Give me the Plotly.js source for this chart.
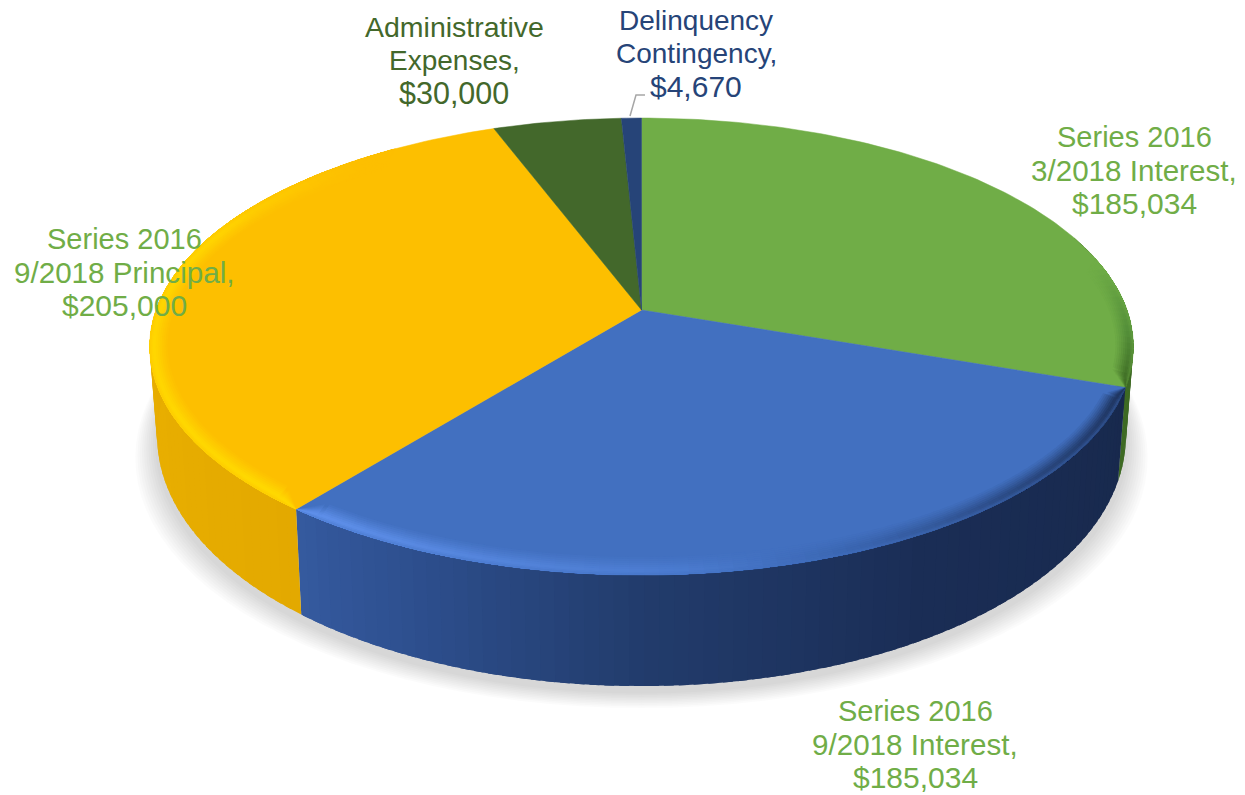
<!DOCTYPE html>
<html>
<head>
<meta charset="utf-8">
<script src="https://cdn.plot.ly/plotly-3.0.1.min.js"></script>
<style>html,body{margin:0;padding:0;background:#fff}#chart{width:1245px;height:795px}</style>
</head>
<body>
<div id="chart"></div>
<script>
// ---- chart data ----
const categories = ["Series 2016 3/2018 Interest", "Series 2016 9/2018 Interest", "Series 2016 9/2018 Principal", "Administrative Expenses", "Delinquency Contingency"];
const amounts = [185034, 185034, 205000, 30000, 4670];
const labelLines = [["Series 2016", "3/2018 Interest,"], ["Series 2016", "9/2018 Interest,"], ["Series 2016", "9/2018 Principal,"], ["Administrative", "Expenses,"], ["Delinquency", "Contingency,"]];

// ---- styles ----
const faceColors = ["#70AD47", "#4270C0", "#FDBF00", "#43682B", "#264478"];
const labelColors = ["#70AD47", "#70AD47", "#70AD47", "#43682B", "#264478"];
const labelCenters = [[1134, 137], [915, 711], [124, 239], [454, 27], [696, 20]];
const lineSizes = [[29, 29.6, 30], [29, 29.6, 30], [29, 29.6, 30], [28.5, 28, 30.5], [28, 28, 30]];
const lineGap = 33;
const wallStops = [[60, "#3a6620"], [109.3, "#3e6a24"], [109.31, "#18294d"], [150, "#1a2d55"], [180, "#223c6c"], [205, "#2e5090"], [218.5, "#355a9f"], [218.51, "#E3A900"], [250, "#E8AE00"], [300, "#E3A900"], [360, "#E3A900"]];
const rimStops = [[0, "#70AD47"], [78, "#70AD47"], [95, "#55903a"], [109.3, "#3f6c24"], [109.31, "#1f3560"], [135, "#2a4880"], [158, "#3a65b0"], [175, "#4a7ace"], [218.5, "#5f90ea"], [218.51, "#FFD800"], [290, "#FFD400"], [318, "#FDBF00"], [360, "#FDBF00"]];

// ---- projection of the tilted disc to the page ----
const CX = 641.5, CY = 310, RX = 485.5, RY = 222.7, K = 0.16;
function topRim(t) {
  const a = t * Math.PI / 180, u = Math.sin(a), v = -Math.cos(a), d = 1 - K * v;
  return [CX + RX * u / d, CY + RY * v / d];
}
function lowRim(t) {
  const a = t * Math.PI / 180, v = -Math.cos(a), p = topRim(t);
  return [CX + (p[0] - CX) * 0.985, p[1] + 85 + 26 * v];
}
function hex(c) { return [1, 3, 5].map(i => parseInt(c.substr(i, 2), 16)); }
function mix(a, b, f) { const x = hex(a), y = hex(b); return "#" + x.map((v, i) => Math.round(v + (y[i] - v) * f).toString(16).padStart(2, "0")).join(""); }
function lookup(stops, t) {
  for (let i = 1; i < stops.length; i++) {
    if (t <= stops[i][0]) {
      const f = (t - stops[i - 1][0]) / (stops[i][0] - stops[i - 1][0]);
      return mix(stops[i - 1][1], stops[i][1], f);
    }
  }
  return stops[stops.length - 1][1];
}
function poly(pts, fill, lineW) {
  return {
    type: "scatter", mode: "lines", x: pts.map(p => p[0]).concat([pts[0][0]]), y: pts.map(p => p[1]).concat([pts[0][1]]),
    fill: "toself", fillcolor: fill, line: { color: fill, width: lineW || 0 }, hoverinfo: "skip", showlegend: false
  };
}

const total = amounts.reduce((a, b) => a + b, 0);
const edges = [0];
amounts.forEach(v => edges.push(edges[edges.length - 1] + v / total * 360));
const traces = [];

// soft shadow under the disc
for (let i = 10; i >= 1; i--) {
  const pts = [];
  for (let t = 0; t < 360; t += 3) {
    const p = lowRim(t);
    pts.push([CX + (p[0] - CX) * (1 + 0.0045 * i), p[1] + 1.6 * i + 6]);
  }
  traces.push(poly(pts, "rgba(0,0,0,0.014)", 0));
}

// side wall: overlapping strips painted in order, so no seams show
const wallEnd = 290, wallStart = 70, seam = edges[1], seam2 = edges[2];
function addWall(from, to) {
  for (let t = from; t < to; t += 1.5) {
    const t2 = Math.min(t + 2.5, to);
    traces.push(poly([topRim(t), topRim(t2), lowRim(t2), lowRim(t)], lookup(wallStops, Math.min(t + 0.75, to)), 0));
  }
}
addWall(wallStart, seam);
addWall(seam, seam2);
addWall(seam2, wallEnd);

// top face wedges
amounts.forEach((v, i) => {
  const pts = [[CX, CY]];
  const n = Math.max(4, Math.ceil(edges[i + 1] - edges[i]));
  for (let k = 0; k <= n; k++) pts.push(topRim(edges[i] + (edges[i + 1] - edges[i]) * k / n));
  traces.push(poly(pts, faceColors[i], 0.5));
});

// soft bevel on the near rim: nested bands, widest and palest first
const bevelLayers = [[18, 0.12], [16, 0.25], [14, 0.4], [12, 0.55], [10, 0.72], [8, 0.88], [6, 1], [3, 0.85], [1.5, 0.65]];
bevelLayers.forEach(([w, f]) => {
  amounts.forEach((v, i) => {
    const s = Math.max(edges[i], 76), e = Math.min(edges[i + 1], 325);
    if (e <= s) return;
    for (let t = s; t < e; t += 1.5) {
      const t2 = Math.min(t + 2.5, e);
      const inner = x => {
        const a = x * Math.PI / 180, p = topRim(x);
        const taper = Math.min(1, (x - s) / 3, (e - x) / 3);
        const ww = w * Math.max(0, taper);
        return [p[0] - Math.sin(a) * ww, p[1] + Math.cos(a) * ww];
      };
      const c = mix(faceColors[i], lookup(rimStops, Math.min(t + 0.75, e)), f);
      traces.push(poly([topRim(t), topRim(t2), inner(t2), inner(t)], c, 0));
    }
  });
});

// leader line for the small slice
traces.push({
  type: "scatter", mode: "lines", x: [630, 636, 645], y: [116, 95, 95],
  line: { color: "#A6A6A6", width: 1.5 }, hoverinfo: "skip", showlegend: false
});

// labels
const annotations = [];
amounts.forEach((v, i) => {
  const lines = labelLines[i].concat(["$" + v.toLocaleString("en-US")]);
  lines.forEach((txt, j) => {
    annotations.push({
      x: labelCenters[i][0], y: labelCenters[i][1] + j * lineGap, xref: "x", yref: "y",
      text: txt, showarrow: false, xanchor: "center", yanchor: "middle",
      font: { family: "Liberation Sans, Arial, sans-serif", size: lineSizes[i][j], color: labelColors[i] }
    });
  });
});

Plotly.newPlot("chart", traces, {
  width: 1245, height: 795,
  margin: { l: 0, r: 0, t: 0, b: 0 },
  paper_bgcolor: "#fff", plot_bgcolor: "#fff", showlegend: false,
  xaxis: { range: [0, 1245], visible: false, fixedrange: true },
  yaxis: { range: [795, 0], visible: false, fixedrange: true },
  annotations: annotations
}, { displayModeBar: false, staticPlot: true });
</script>
</body>
</html>
